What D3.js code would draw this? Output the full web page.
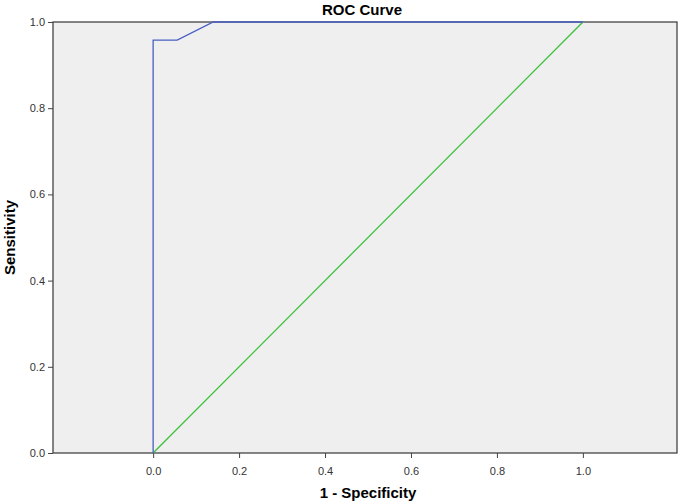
<!DOCTYPE html>
<html><head><meta charset="utf-8">
<script src="https://cdn.jsdelivr.net/npm/d3@7"></script>
<style>body{margin:0;background:#fff}text{font-family:"Liberation Sans",Arial,sans-serif}</style>
</head><body><div id="chart"></div>
<script>
const rocX = [0, 0, 0.056, 0.14, 1.0]
const rocY = [0, 0.958, 0.958, 1.0, 1.0]
const refX = [0, 1]
const refY = [0, 1]
const xTicks = [0, 0.2, 0.4, 0.6, 0.8, 1.0]
const yTicks = [0, 0.2, 0.4, 0.6, 0.8, 1.0]

const width = 685, height = 504
const m = {left: 53, right: 8, top: 22, bottom: 51}

const svg = d3.select('#chart').append('svg').attr('width', width).attr('height', height)

const x = d3.scaleLinear().domain([-0.233, 1.219]).range([m.left, width - m.right])
const y = d3.scaleLinear().domain([0, 1]).range([height - m.bottom, m.top])

svg.append('rect').attr('x', m.left).attr('y', m.top)
    .attr('width', width - m.right - m.left).attr('height', height - m.bottom - m.top)
    .attr('fill', '#efefef').attr('stroke', '#444').attr('stroke-width', 1.3)

const xaxis = svg.append('g').attr('transform', `translate(0,${height - m.bottom})`)
    .call(d3.axisBottom(x).tickValues(xTicks).tickFormat(d3.format('.1f')).tickSize(5))
const yaxis = svg.append('g').attr('transform', `translate(${m.left},0)`)
    .call(d3.axisLeft(y).tickValues(yTicks).tickFormat(d3.format('.1f')).tickSize(5))
;[xaxis, yaxis].forEach(a => {
    a.select('.domain').remove()
    a.selectAll('line').attr('stroke', '#444')
    a.selectAll('text').attr('font-size', 11).attr('fill', '#333')
})
xaxis.selectAll('text').attr('dy', '1.3em')

const line = d3.line().x(d => x(d[0])).y(d => y(d[1]))

svg.append('path').datum(refX.map((v, i) => [v, refY[i]])).attr('d', line)
    .attr('fill', 'none').attr('stroke', '#3cc13c').attr('stroke-width', 1.3)
svg.append('path').datum(rocX.map((v, i) => [v, rocY[i]])).attr('d', line)
    .attr('fill', 'none').attr('stroke', '#4a5fc4').attr('stroke-width', 1.3)

svg.append('text').attr('x', (m.left + width - m.right) / 2 - 3).attr('y', 15)
    .attr('text-anchor', 'middle').attr('font-weight', 'bold').attr('font-size', 15).text('ROC Curve')
svg.append('text').attr('x', x(0.5)).attr('y', 498)
    .attr('text-anchor', 'middle').attr('font-weight', 'bold').attr('font-size', 15).text('1 - Specificity')
svg.append('text').attr('transform', `translate(15,${y(0.5)}) rotate(-90)`)
    .attr('text-anchor', 'middle').attr('font-weight', 'bold').attr('font-size', 15).text('Sensitivity')
</script></body></html>
